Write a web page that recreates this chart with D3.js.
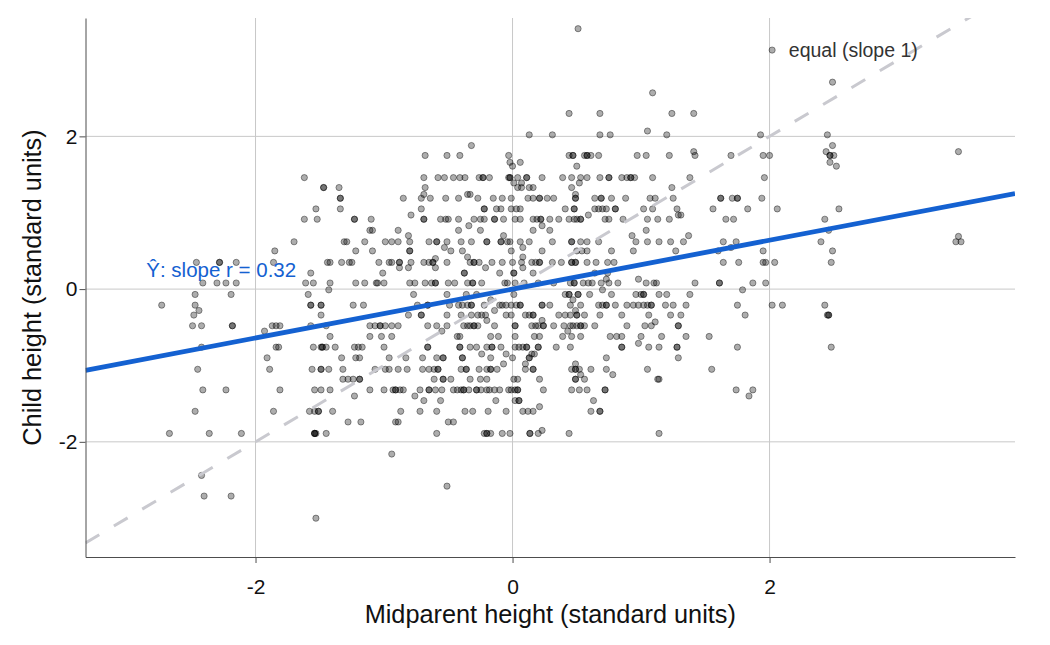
<!DOCTYPE html>
<html>
<head>
<meta charset="utf-8">
<script src="https://cdn.jsdelivr.net/npm/d3@7"></script>
<style>
  body { margin: 0; background: #fff; }
  svg { display: block; }
  text { font-family: "Liberation Sans", Arial, sans-serif; }
</style>
</head>
<body>
<div id="chart"></div>
<script>
// child height levels (standard units), one entry per visible row of points
const childLevels = [
  3.41, 3.13, 2.71, 2.57, 2.30, 2.07, 2.02, 1.88, 1.80, 1.75, 1.66, 1.61, 1.46, 1.39, 1.33, 1.24, 1.19,
  1.05, 0.97, 0.915, 0.83, 0.77, 0.70, 0.69, 0.62, 0.545, 0.50, 0.42, 0.40, 0.35, 0.28, 0.21, 0.13, 0.08,
  -0.01, -0.07, -0.14, -0.21, -0.28, -0.34, -0.41, -0.43, -0.48, -0.55, -0.62, -0.71, -0.76, -0.85, -0.90,
  -0.98, -1.05, -1.12, -1.18, -1.32, -1.40, -1.46, -1.54, -1.60, -1.74, -1.85, -1.89, -2.16, -2.44, -2.58,
  -2.71, -3.00
];

// midparent heights (standard units) of the children on each level above
const midparentAtLevel = [
  [0.51],
  [2.02],
  [2.49],
  [1.09],
  [0.44, 0.68, 1.24, 1.41],
  [1.05],
  [0.13, 0.31, 0.68, 0.76, 1.20, 1.93, 2.45],
  [-0.32, 2.49],
  [1.41, 2.44, 3.47],
  [-0.68, -0.51, -0.41, -0.03, 0.44, 0.47, 0.47, 0.56, 0.58, 0.58, 0.61, 0.67, 0.97, 1.04, 1.22, 1.42, 1.70, 1.95, 2.00, 2.47, 2.47, 2.50],
  [-0.02, 0.06, 2.47],
  [0.0, 0.50, 2.52],
  [-1.62, -0.69, -0.58, -0.53, -0.46, -0.41, -0.37, -0.26, -0.23, -0.23, -0.18, -0.03, -0.02, -0.02, 0.04, 0.11, 0.11, 0.23, 0.39, 0.46, 0.53, 0.58, 0.68, 0.75, 0.75, 0.85, 0.89, 0.92, 0.92, 0.95, 1.09, 1.38, 1.96],
  [0.01, 0.07, 0.52],
  [-1.47, -1.47, -1.35, -0.68, 0.04, 0.07, 0.13, 0.16, 0.46, 1.24],
  [-0.69, -0.35, -0.33, 0.49],
  [-1.34, -1.34, -0.85, -0.71, -0.64, -0.52, -0.42, -0.27, -0.15, -0.08, -0.01, 0.12, 0.16, 0.21, 0.21, 0.27, 0.32, 0.49, 0.49, 0.64, 0.69, 0.69, 0.77, 0.88, 1.07, 1.11, 1.25, 1.62, 1.62, 1.71, 1.75, 1.75, 1.94],
  [-1.53, -1.34, -0.71, -0.22, -0.22, -0.125, -0.09, -0.01, 0.03, 0.06, 0.41, 0.48, 0.48, 0.64, 0.67, 0.70, 0.73, 0.80, 0.80, 1.02, 1.09, 1.28, 1.56, 1.83, 2.06, 2.54],
  [-0.79, 0.59, 1.29, 1.31],
  [-1.62, -1.52, -1.23, -1.23, -1.10, -0.69, -0.69, -0.56, -0.52, -0.50, -0.42, -0.30, -0.25, -0.22, -0.14, -0.14, -0.07, 0.02, 0.06, 0.16, 0.19, 0.22, 0.22, 0.29, 0.36, 0.44, 0.48, 0.50, 0.53, 0.53, 0.72, 0.75, 0.86, 1.05, 1.13, 1.22, 1.66, 1.72, 2.43],
  [-0.34, 0.23],
  [-1.11, -1.09, -0.89, -0.42, -0.25, 0.16, 0.29, 1.04, 2.46],
  [-0.81, -0.07, 0.93, 1.37],
  [3.47],
  [-1.70, -1.31, -1.29, -1.15, -0.99, -0.94, -0.89, -0.80, -0.65, -0.59, -0.59, -0.51, -0.40, -0.32, -0.20, -0.20, -0.09, -0.09, -0.04, -0.02, 0.06, 0.13, 0.31, 0.46, 0.46, 0.53, 0.58, 0.67, 0.96, 1.05, 1.14, 1.23, 1.33, 1.64, 1.74, 2.40, 3.45, 3.49],
  [-0.53, 0.08, 1.70],
  [-1.85, -1.22, -1.09, -0.80, -0.80, -0.48, -0.39, -0.01, 0.23, 0.50, 0.54, 0.58, 0.77, 0.94, 1.27, 1.60, 1.95, 2.49],
  [-0.35, 0.08],
  [-0.60],
  [-2.46, -2.28, -2.28, -2.15, -1.86, -1.44, -1.42, -1.33, -1.27, -1.25, -1.04, -0.96, -0.94, -0.88, -0.88, -0.79, -0.69, -0.65, -0.62, -0.62, -0.51, -0.33, -0.30, -0.30, -0.26, -0.16, -0.08, 0.00, 0.07, 0.15, 0.18, 0.21, 0.21, 0.31, 0.38, 0.46, 0.46, 0.49, 0.49, 0.58, 0.65, 0.74, 0.79, 1.64, 1.76, 1.95, 1.97, 2.04, 2.48],
  [-0.88, -0.81, -0.60, -0.21, 0.08],
  [-1.57, -1.01, -0.375, -0.375, -0.10, 0.01, 0.01, 0.16, 0.64, 0.74],
  [0.73, 0.98],
  [-2.41, -2.30, -2.23, -2.15, -1.61, -1.55, -1.42, -1.22, -1.15, -1.06, -1.05, -1.00, -0.80, -0.76, -0.68, -0.63, -0.60, -0.60, -0.50, -0.45, -0.35, -0.31, -0.31, -0.24, -0.06, -0.04, 0.02, 0.09, 0.20, 0.32, 0.45, 0.48, 0.48, 0.55, 0.59, 0.62, 0.69, 0.75, 0.82, 1.04, 1.10, 1.12, 1.42, 1.61, 1.61, 1.87, 1.97],
  [-1.43, 0.70, 1.79],
  [-2.47, -2.19, -1.59, -0.77, -0.51, -0.36, -0.28, 0.01, 0.41, 0.44, 0.44, 0.51, 0.51, 0.60, 0.77, 0.96, 1.00, 1.02, 1.02, 1.14, 1.20, 1.38],
  [-0.17, 0.47],
  [-2.73, -2.47, -1.57, -1.57, -1.49, -1.49, -1.24, -1.16, -0.74, -0.66, -0.66, -0.49, -0.42, -0.39, -0.35, -0.32, -0.32, -0.22, -0.10, -0.08, -0.05, -0.01, 0.03, 0.06, 0.06, 0.23, 0.23, 0.29, 0.45, 0.53, 0.67, 0.70, 0.73, 0.73, 0.80, 0.89, 0.94, 0.98, 1.02, 1.05, 1.08, 1.08, 1.19, 1.25, 1.35, 1.75, 2.02, 2.10, 2.43],
  [-2.44, -0.14, 0.49],
  [-2.48, -1.49, -0.81, -0.71, -0.71, -0.51, -0.40, -0.32, -0.27, -0.24, -0.21, -0.05, -0.01, 0.10, 0.13, 0.16, 0.16, 0.36, 0.41, 0.45, 0.50, 0.50, 0.56, 0.68, 0.85, 1.06, 1.23, 1.31, 1.81, 2.45, 2.46, 2.46],
  [-0.20, 0.23],
  [1.11],
  [-2.49, -2.42, -2.18, -2.18, -1.87, -1.84, -1.81, -1.57, -1.45, -1.11, -1.07, -1.03, -1.03, -0.99, -0.94, -0.89, -0.66, -0.59, -0.51, -0.38, -0.35, -0.33, -0.30, -0.30, -0.27, -0.14, 0.02, 0.02, 0.15, 0.18, 0.20, 0.24, 0.24, 0.32, 0.40, 0.45, 0.47, 0.50, 0.53, 0.53, 0.56, 0.64, 0.89, 1.03, 1.08, 1.29, 1.29],
  [-1.93, -0.55, 0.43],
  [-1.42, -1.11, -1.02, -0.94, -0.43, -0.41, -0.17, -0.11, 0.02, 0.17, 0.21, 0.39, 0.46, 0.53, 0.76, 0.81, 0.85, 1.00, 1.16, 1.35, 1.53],
  [0.98],
  [-2.42, -1.84, -1.82, -1.55, -1.49, -1.48, -1.48, -1.45, -1.38, -1.23, -1.20, -1.17, -1.00, -0.66, -0.66, -0.41, -0.41, -0.33, -0.28, -0.20, -0.16, -0.16, -0.09, 0.02, 0.05, 0.08, 0.11, 0.11, 0.20, 0.20, 0.34, 0.45, 0.85, 0.85, 1.06, 1.14, 1.28, 1.28, 1.75, 2.48],
  [-0.24, -0.05, 0.15, 0.17],
  [-1.91, -1.33, -1.22, -1.19, -0.96, -0.83, -0.70, -0.59, -0.54, -0.54, -0.39, -0.39, -0.17, 0.00, 0.13, 0.13, 0.73, 1.29],
  [-0.07, 0.10, 0.49],
  [-2.45, -1.89, -1.56, -1.49, -1.49, -1.43, -1.32, -1.07, -0.99, -0.96, -0.89, -0.82, -0.70, -0.65, -0.61, -0.58, -0.58, -0.40, -0.36, -0.36, -0.26, -0.20, -0.17, -0.17, -0.12, 0.10, 0.16, 0.16, 0.46, 0.49, 0.49, 0.52, 0.61, 0.73, 1.05, 1.55],
  [0.53, 0.78],
  [-1.32, -1.28, -1.24, -1.19, -1.19, -0.61, -0.54, -0.54, -0.48, -0.33, -0.25, -0.20, 0.01, 0.04, 0.21, 0.49, 0.49, 0.56, 1.13, 1.14],
  [-2.41, -2.23, -1.81, -1.54, -1.49, -1.42, -1.11, -1.00, -0.93, -0.91, -0.91, -0.875, -0.85, -0.72, -0.65, -0.65, -0.60, -0.55, -0.46, -0.43, -0.40, -0.38, -0.38, -0.34, -0.28, -0.28, -0.245, -0.20, -0.18, -0.14, -0.10, -0.03, -0.01, 0.02, 0.04, 0.04, 0.24, 0.46, 0.52, 0.58, 0.72, 0.72, 1.74, 1.87],
  [-1.23, -0.76, 1.84],
  [-0.69, -0.56, -0.13, 0.02, 0.05, 0.05, 0.63],
  [0.21],
  [-2.47, -1.86, -1.58, -1.54, -1.51, -1.51, -1.40, -0.87, -0.72, -0.59, -0.37, -0.31, -0.19, -0.05, 0.08, 0.12, 0.16, 0.61, 0.68, 0.68],
  [-1.28, -1.18, -0.91, -0.89, -0.50, -0.46],
  [0.23],
  [-2.67, -2.36, -2.11, -1.54, -1.54, -1.54, -1.53, -1.45, -0.59, -0.22, -0.20, -0.20, -0.17, -0.08, -0.02, 0.135, 0.135, 0.20, 0.44, 1.14],
  [-0.94],
  [-2.42],
  [-0.51],
  [-2.40, -2.19],
  [-1.53]
];

const xTicks = [-2, 0, 2];
const yTicks = [-2, 0, 2];
const slopeR = 0.32;
const fitText = "Ŷ: slope r = 0.32";
const equalText = "equal (slope 1)";

const width = 1050, height = 645;
const margin = { top: 18, right: 35, bottom: 88, left: 85.5 };
const innerW = width - margin.left - margin.right;
const innerH = height - margin.top - margin.bottom;

const points = [];
childLevels.forEach((c, i) => midparentAtLevel[i].forEach(m => points.push({ m: m, c: c })));

const svg = d3.select("#chart").append("svg")
  .attr("width", width)
  .attr("height", height);

const g = svg.append("g")
  .attr("transform", "translate(" + margin.left + "," + margin.top + ")");

const x = d3.scaleLinear().domain([-3.323, 3.91]).range([0, innerW]);
const y = d3.scaleLinear().domain([-3.508, 3.55]).range([innerH, 0]);

g.append("clipPath").attr("id", "clip")
  .append("rect").attr("width", innerW).attr("height", innerH);

// grid
g.append("g").selectAll("line").data(xTicks).join("line")
  .attr("x1", d => x(d)).attr("x2", d => x(d))
  .attr("y1", 0).attr("y2", innerH)
  .attr("stroke", "#c8c8c8").attr("stroke-width", 1);
g.append("g").selectAll("line").data(yTicks).join("line")
  .attr("x1", 0).attr("x2", innerW)
  .attr("y1", d => y(d)).attr("y2", d => y(d))
  .attr("stroke", "#c8c8c8").attr("stroke-width", 1);

// points
g.append("g").selectAll("circle").data(points).join("circle")
  .attr("cx", d => x(d.m))
  .attr("cy", d => y(d.c))
  .attr("r", 3.1)
  .attr("fill", "#000")
  .attr("fill-opacity", 0.32)
  .attr("stroke", "#000")
  .attr("stroke-opacity", 0.5)
  .attr("stroke-width", 0.8);

const lines = g.append("g").attr("clip-path", "url(#clip)");
const xd = x.domain();

// equal line, slope 1
lines.append("path")
  .datum(xd)
  .attr("d", d3.line().x(d => x(d)).y(d => y(d)))
  .attr("fill", "none")
  .attr("stroke", "#c9c9cf")
  .attr("stroke-width", 3)
  .attr("stroke-dasharray", "16,17");

// regression line, slope r
lines.append("path")
  .datum(xd)
  .attr("d", d3.line().x(d => x(d)).y(d => y(slopeR * d)))
  .attr("fill", "none")
  .attr("stroke", "#1461d1")
  .attr("stroke-width", 4.8);

// labels
g.append("text")
  .attr("x", x(2.15)).attr("y", y(3.04))
  .attr("font-size", 19.5).attr("fill", "#333")
  .text(equalText);

g.append("text")
  .attr("x", x(-2.85)).attr("y", y(0.16))
  .attr("font-size", 20.5)
  .attr("fill", "#1461d1")
  .text(fitText);

// axes
const xAxis = g.append("g")
  .attr("transform", "translate(0," + innerH + ")")
  .call(d3.axisBottom(x).tickValues(xTicks).tickSize(6).tickSizeOuter(0).tickPadding(16).tickFormat(d3.format("d")));
const yAxis = g.append("g")
  .call(d3.axisLeft(y).tickValues(yTicks).tickSize(6).tickSizeOuter(0).tickPadding(2).tickFormat(d3.format("d")));

[xAxis, yAxis].forEach(a => {
  a.select(".domain").attr("stroke", "#4d4d4d");
  a.selectAll(".tick line").attr("stroke", "#4d4d4d");
  a.selectAll(".tick text")
    .attr("font-size", 21)
    .attr("fill", "#111")
    .attr("font-family", "'Liberation Sans', Arial, sans-serif")
    .text(d => d < 0 ? "-" + Math.abs(d) : d);
});

svg.append("text")
  .attr("x", margin.left + innerW / 2)
  .attr("y", 623)
  .attr("text-anchor", "middle")
  .attr("font-size", 25.3)
  .attr("fill", "#111")
  .text("Midparent height (standard units)");

svg.append("text")
  .attr("transform", "translate(41," + (margin.top + innerH / 2) + ") rotate(-90)")
  .attr("text-anchor", "middle")
  .attr("font-size", 25.3)
  .attr("fill", "#111")
  .text("Child height (standard units)");
</script>
</body>
</html>
